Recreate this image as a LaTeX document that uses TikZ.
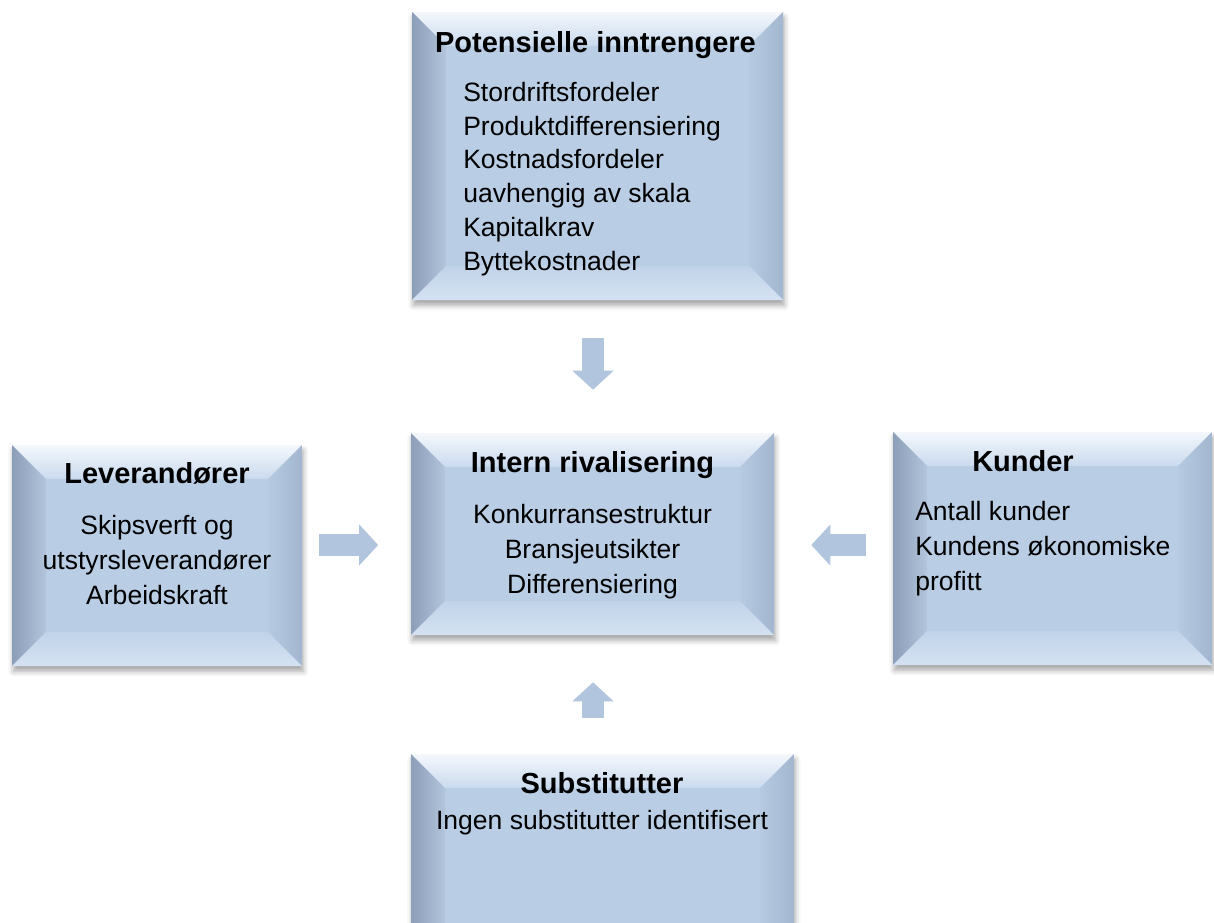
\documentclass[tikz,border=0pt]{standalone}
\usepackage{fontspec}
\setmainfont{Liberation Sans}
\usetikzlibrary{arrows.meta,positioning,calc,shadows.blur}
\definecolor{face}{HTML}{B9CDE5}
\definecolor{bevtop}{HTML}{F4F8FC}
\definecolor{bevtopin}{HTML}{CADAEE}
\definecolor{bevleft}{HTML}{8C9EB8}
\definecolor{bevleftin}{HTML}{B3C5DC}
\definecolor{bevright}{HTML}{A3B6CF}
\definecolor{bevrightin}{HTML}{B6CAE2}
\definecolor{bevbot}{HTML}{D4E2F2}
\definecolor{bevbotin}{HTML}{C1D3E9}
\definecolor{arrowfill}{HTML}{B2C5DE}
\def\bv{25.5pt}

\begin{document}
\begin{tikzpicture}[x=0.75pt, y=-0.75pt,
  bevelbox/.style={rectangle, fill=face, inner sep=0pt,
    blur shadow={shadow xshift=1pt, shadow yshift=-4pt, shadow blur radius=4pt, shadow opacity=35},
    path picture={
      \path (path picture bounding box.north west) coordinate (nw)
            (path picture bounding box.north east) coordinate (ne)
            (path picture bounding box.south west) coordinate (sw)
            (path picture bounding box.south east) coordinate (se);
      \path ($(nw)+(\bv,-\bv)$) coordinate (inw) ($(ne)+(-\bv,-\bv)$) coordinate (ine)
            ($(sw)+(\bv,\bv)$) coordinate (isw) ($(se)+(-\bv,\bv)$) coordinate (ise);
      \shade[top color=bevtop, bottom color=bevtopin] (nw) -- (ne) -- (ine) -- (inw) -- cycle;
      \shade[left color=bevleft, right color=bevleftin] (nw) -- (inw) -- (isw) -- (sw) -- cycle;
      \shade[left color=bevrightin, right color=bevright] (ne) -- (ine) -- (ise) -- (se) -- cycle;
      \shade[top color=bevbotin, bottom color=bevbot] (sw) -- (isw) -- (ise) -- (se) -- cycle;
    }},
  headtxt/.style={font=\fontsize{21.75}{26}\selectfont\bfseries, anchor=base, inner sep=0pt},
  bodytxt/.style={font=\fontsize{19.9}{25.9}\selectfont, anchor=base, inner sep=0pt},
  blockarr/.style={-{Triangle[length=14.25pt, width=30pt]}, line width=16.5pt, draw=arrowfill},
]
\useasboundingbox (0,0) rectangle (1214,922);
% the five forces
\node[bevelbox, minimum width=278.25pt, minimum height=216pt] (entr) at (597.5,156) {};
\node[bevelbox, minimum width=272.25pt, minimum height=151.5pt] (mid) at (592.5,534) {};
\node[bevelbox, minimum width=217.5pt, minimum height=165.75pt] (lev) at (157,555.5) {};
\node[bevelbox, minimum width=239.25pt, minimum height=174.75pt] (kun) at (1052.5,548.5) {};
\node[bevelbox, minimum width=287.25pt, minimum height=157.5pt] (sub) at (602.5,859) {};

% texts (multi-line nodes sit on their last baseline)
\node[headtxt] (entr-t) at (595.5,52) {Potensielle inntrengere};
\node[bodytxt, align=left, anchor=base west, font=\fontsize{19.9}{25.3}\selectfont] (entr-b) at (463,270)
  {Stordriftsfordeler\\Produktdifferensiering\\Kostnadsfordeler\\uavhengig av skala\\Kapitalkrav\\Byttekostnader};
\node[headtxt] (mid-t) at (592.5,472) {Intern rivalisering};
\node[bodytxt, align=center] (mid-b) at (592.5,593) {Konkurransestruktur\\Bransjeutsikter\\Differensiering};
\node[headtxt] (lev-t) at (157,483) {Leverandører};
\node[bodytxt, align=center] (lev-b) at (157,604) {Skipsverft og\\utstyrsleverandører\\Arbeidskraft};
\node[headtxt] (kun-t) at (1023,471) {Kunder};
\node[bodytxt, align=left, anchor=base west] (kun-b) at (915,590) {Antall kunder\\Kundens økonomiske\\profitt};
\node[headtxt] (sub-t) at (602,793) {Substitutter};
\node[bodytxt] (sub-b) at (602,829) {Ingen substitutter identifisert};

% block arrows
\coordinate (hrow) at (600,545);
\coordinate (vcol) at (593,300);
\draw[blockarr, shorten <=12.75pt, shorten >=24.4pt] (lev.east |- hrow) -- (mid.west |- hrow);
\draw[blockarr, shorten <=20.25pt, shorten >=27.75pt] (kun.west |- hrow) -- (mid.east |- hrow);
\draw[blockarr, shorten <=28.5pt, shorten >=32.25pt] (entr.south -| vcol) -- (mid.north -| vcol);
\draw[blockarr, shorten <=27pt, shorten >=35.25pt] (sub.north -| vcol) -- (mid.south -| vcol);
\end{tikzpicture}
\end{document}
